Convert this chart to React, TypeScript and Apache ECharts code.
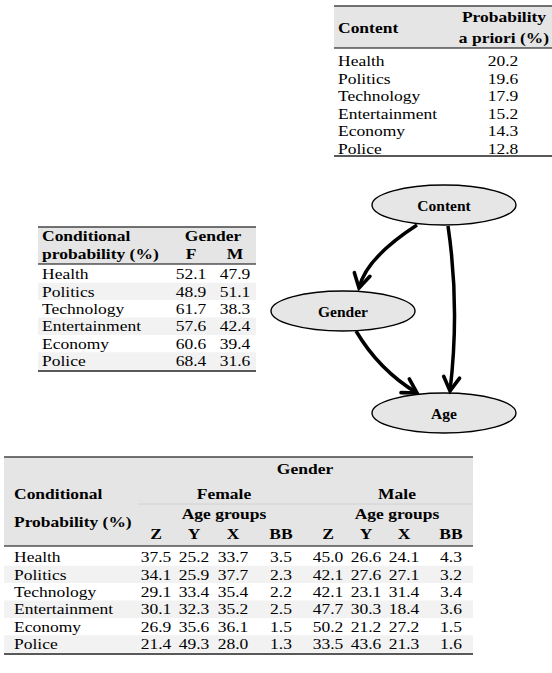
import React, { useEffect, useRef } from 'react';
import * as echarts from 'echarts';

// ---------- data ----------
const contentCategories = ['Health', 'Politics', 'Technology', 'Entertainment', 'Economy', 'Police'];
const priorProbability = [20.2, 19.6, 17.9, 15.2, 14.3, 12.8];

const genderLabels = ['F', 'M'];
const genderF = [52.1, 48.9, 61.7, 57.6, 60.6, 68.4];
const genderM = [47.9, 51.1, 38.3, 42.4, 39.4, 31.6];

const ageGroups = ['Z', 'Y', 'X', 'BB'];
const femaleZ = [37.5, 34.1, 29.1, 30.1, 26.9, 21.4];
const femaleY = [25.2, 25.9, 33.4, 32.3, 35.6, 49.3];
const femaleX = [33.7, 37.7, 35.4, 35.2, 36.1, 28.0];
const femaleBB = [3.5, 2.3, 2.2, 2.5, 1.5, 1.3];
const maleZ = [45.0, 42.1, 42.1, 47.7, 50.2, 33.5];
const maleY = [26.6, 27.6, 23.1, 30.3, 21.2, 43.6];
const maleX = [24.1, 27.1, 31.4, 18.4, 27.2, 21.3];
const maleBB = [4.3, 3.2, 3.4, 3.6, 1.5, 1.6];

const networkNodes = ['Content', 'Gender', 'Age'];
const networkEdges: [string, string][] = [
  ['Content', 'Gender'],
  ['Content', 'Age'],
  ['Gender', 'Age'],
];

// ---------- layout / style ----------
const FF = '"Liberation Serif", "Times New Roman", serif';
const FS = 17.5;
const SY = 0.88; // slight vertical compression so tight LaTeX rows do not collide
const HEADER_BG = '#e5e5e5';
const ALT_BG = '#f2f2f2';

const txt = (text: string, x: number, y: number, align: string, bold = false, size = FS, z = 10, sy = SY) => ({
  type: 'text',
  z,
  x,
  y,
  scaleY: sy,
  style: {
    text,
    font: `${bold ? 'bold ' : ''}${size}px ${FF}`,
    fill: '#000',
    textAlign: align,
    textVerticalAlign: 'middle',
    align,
    verticalAlign: 'middle',
  },
});
const rect = (x: number, y: number, w: number, h: number, fill: string) => ({
  type: 'rect',
  z: 1,
  shape: { x, y, width: w, height: h },
  style: { fill },
});
const hline = (x1: number, x2: number, y: number, lw: number, color = '#000') => ({
  type: 'line',
  z: 5,
  shape: { x1, y1: y, x2, y2: y },
  style: { stroke: color, lineWidth: lw },
});

const fmt = (v: number) => v.toFixed(1);

function buildElements() {
  const els: any[] = [];

  // ----- Table 1: prior -----
  {
    const x0 = 334, x1 = 552, top = 6, hdr = 48, row0 = 61, pitch = 17.5, bottom = 156;
    els.push(rect(x0, top, x1 - x0, hdr - top, HEADER_BG));
    els.push(hline(x0, x1, top, 1.3, '#444'));
    els.push(hline(x0, x1, hdr, 1, '#000'));
    els.push(hline(x0, x1, bottom, 1.5, '#222'));
    els.push(txt('Content', 338, 28, 'left', true));
    els.push(txt('Probability', 504, 17, 'center', true));
    els.push(txt('a priori (%)', 504, 38, 'center', true));
    contentCategories.forEach((c, i) => {
      const y = row0 + i * pitch;
      els.push(txt(c, 338, y, 'left'));
      els.push(txt(fmt(priorProbability[i]), 503, y, 'center'));
    });
  }

  // ----- Table 2: gender | content -----
  {
    const x0 = 38, x1 = 256, top = 227, hdr = 264, row0 = 274, pitch = 17.4;
    const bottom = row0 + 5 * pitch + 10;
    const colX = [191, 235];
    els.push(rect(x0, top, x1 - x0, hdr - top, HEADER_BG));
    contentCategories.forEach((_, i) => {
      if (i % 2 === 1) els.push(rect(x0, row0 + i * pitch - pitch / 2, x1 - x0, pitch, ALT_BG));
    });
    els.push(hline(x0, x1, top, 1.3, '#444'));
    els.push(hline(x0, x1, hdr, 1, '#000'));
    els.push(hline(x0, x1, bottom, 1.5, '#222'));
    els.push(txt('Conditional', 42, 236, 'left', true));
    els.push(txt('probability (%)', 42, 254, 'left', true));
    els.push(txt('Gender', 213, 236, 'center', true));
    genderLabels.forEach((g, j) => els.push(txt(g, colX[j], 254, 'center', true)));
    contentCategories.forEach((c, i) => {
      const y = row0 + i * pitch;
      els.push(txt(c, 42, y, 'left'));
      els.push(txt(fmt(genderF[i]), colX[0], y, 'center'));
      els.push(txt(fmt(genderM[i]), colX[1], y, 'center'));
    });
  }

  // ----- Table 3: age | content, gender -----
  {
    const x0 = 4, x1 = 473, top = 457, hdr = 546, row0 = 557, pitch = 17.4;
    const bottom = row0 + 5 * pitch + 10;
    const femaleCols = [156, 194, 233, 281];
    const maleCols = [328, 366, 404, 451];
    const femaleData = [femaleZ, femaleY, femaleX, femaleBB];
    const maleData = [maleZ, maleY, maleX, maleBB];
    els.push(rect(x0, top, x1 - x0, hdr - top, HEADER_BG));
    contentCategories.forEach((_, i) => {
      if (i % 2 === 1) els.push(rect(x0, row0 + i * pitch - pitch / 2, x1 - x0, pitch, ALT_BG));
    });
    els.push(hline(x0, x1, top, 1.3, '#444'));
    els.push(hline(138, x1, 504, 1, '#d2d2d2'));
    els.push(hline(x0, x1, hdr, 1.2, '#000'));
    els.push(hline(x0, x1, bottom, 1.5, '#222'));
    els.push(txt('Gender', 305, 469, 'center', true));
    els.push(txt('Conditional', 14, 494, 'left', true));
    els.push(txt('Probability (%)', 14, 522, 'left', true));
    els.push(txt('Female', 224, 494, 'center', true));
    els.push(txt('Male', 397, 494, 'center', true));
    els.push(txt('Age groups', 224, 514, 'center', true));
    els.push(txt('Age groups', 397, 514, 'center', true));
    ageGroups.forEach((a, j) => {
      els.push(txt(a, femaleCols[j], 534, 'center', true));
      els.push(txt(a, maleCols[j], 534, 'center', true));
    });
    contentCategories.forEach((c, i) => {
      const y = row0 + i * pitch;
      els.push(txt(c, 14, y, 'left'));
      femaleData.forEach((arr, j) => els.push(txt(fmt(arr[i]), femaleCols[j], y, 'center')));
      maleData.forEach((arr, j) => els.push(txt(fmt(arr[i]), maleCols[j], y, 'center')));
    });
  }

  // ----- Bayesian network -----
  {
    const nodePos: Record<string, { cx: number; cy: number }> = {
      Content: { cx: 444, cy: 205 },
      Gender: { cx: 343, cy: 311 },
      Age: { cx: 444, cy: 413 },
    };
    // edge geometry: start, control, tip
    const edgeGeom: Record<string, { s: number[]; c: number[]; e: number[] }> = {
      'Content>Gender': { s: [417, 225], c: [366, 258], e: [359, 288] },
      'Content>Age': { s: [448, 226], c: [460, 307], e: [450, 391] },
      'Gender>Age': { s: [356, 331], c: [379, 370], e: [417, 393] },
    };
    networkNodes.forEach((n) => {
      const p = nodePos[n];
      els.push({
        type: 'ellipse',
        z: 3,
        shape: { cx: p.cx, cy: p.cy, rx: 72, ry: 20 },
        style: { fill: '#e6e6e6', stroke: '#000', lineWidth: 1.4 },
      });
      els.push(txt(n, p.cx, p.cy, 'center', true, 15.5, 4, 1));
    });
    networkEdges.forEach(([a, b]) => {
      const g = edgeGeom[`${a}>${b}`];
      els.push({
        type: 'bezierCurve',
        z: 6,
        shape: { x1: g.s[0], y1: g.s[1], x2: g.e[0], y2: g.e[1], cpx1: g.c[0], cpy1: g.c[1] },
        style: { stroke: '#000', lineWidth: 3.5, fill: null },
      });
      const dx = g.e[0] - g.c[0];
      const dy = g.e[1] - g.c[1];
      const len = Math.hypot(dx, dy);
      const ux = dx / len, uy = dy / len;
      const L = 16, ang = (30 * Math.PI) / 180;
      const rot = (x: number, y: number, t: number) => [x * Math.cos(t) - y * Math.sin(t), x * Math.sin(t) + y * Math.cos(t)];
      const [b1x, b1y] = rot(-ux, -uy, ang);
      const [b2x, b2y] = rot(-ux, -uy, -ang);
      els.push({
        type: 'polyline',
        z: 7,
        shape: {
          points: [
            [g.e[0] + b1x * L, g.e[1] + b1y * L],
            [g.e[0], g.e[1]],
            [g.e[0] + b2x * L, g.e[1] + b2y * L],
          ],
        },
        style: { stroke: '#000', lineWidth: 3.6, fill: null, lineJoin: 'miter', lineCap: 'round' },
      });
    });
  }

  return els;
}

export default function App() {
  const ref = useRef<HTMLDivElement>(null);
  useEffect(() => {
    document.body.style.margin = '0';
    if (!ref.current) return;
    const chart = echarts.init(ref.current, undefined, { renderer: 'svg' });
    chart.setOption({
      animation: false,
      backgroundColor: '#fff',
      graphic: { elements: buildElements() },
    });
    return () => chart.dispose();
  }, []);
  return <div ref={ref} style={{ width: 552, height: 673 }} />;
}
